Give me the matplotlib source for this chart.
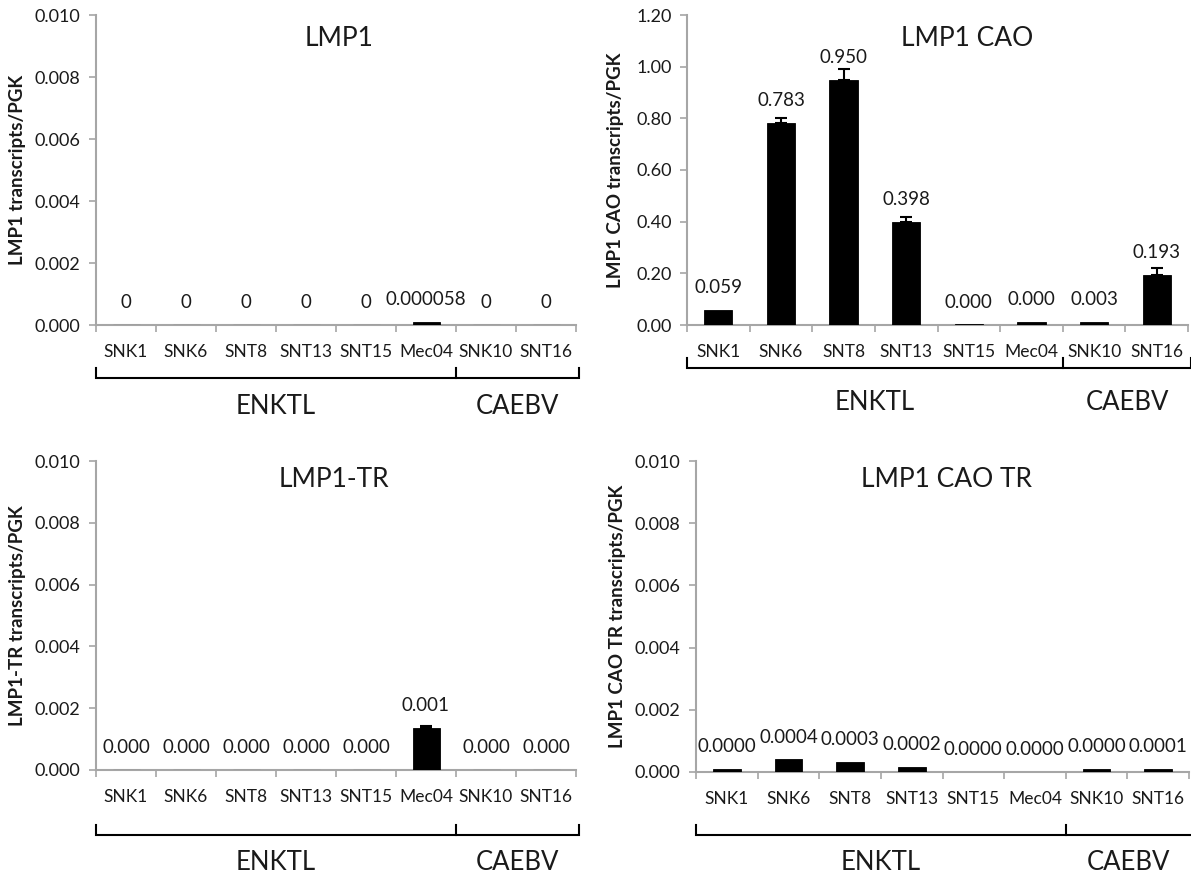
import matplotlib
matplotlib.use("Agg")
import matplotlib.pyplot as plt
from matplotlib.transforms import blended_transform_factory
import numpy as np

plt.rcParams['font.family'] = ['Lato', 'DejaVu Sans']

categories = ["SNK1", "SNK6", "SNT8", "SNT13", "SNT15", "Mec04", "SNK10", "SNT16"]
groups = ["ENKTL", "CAEBV"]

# Panel 1: LMP1
lmp1_values = [0, 0, 0, 0, 0, 0.0001, 0, 0]
lmp1_errors = [0, 0, 0, 0, 0, 0, 0, 0]
lmp1_labels = ["0", "0", "0", "0", "0", "0.000058", "0", "0"]

# Panel 2: LMP1 CAO
cao_values = [0.059, 0.783, 0.950, 0.398, 0.002, 0.012, 0.012, 0.193]
cao_errors = [0, 0.02, 0.04, 0.022, 0, 0, 0, 0.027]
cao_labels = ["0.059", "0.783", "0.950", "0.398", "0.000", "0.000", "0.003", "0.193"]

# Panel 3: LMP1-TR
tr_values = [0, 0, 0, 0, 0, 0.00136, 0, 0]
tr_errors = [0, 0, 0, 0, 0, 0.00005, 0, 0]
tr_labels = ["0.000", "0.000", "0.000", "0.000", "0.000", "0.001", "0.000", "0.000"]

# Panel 4: LMP1 CAO TR
caotr_values = [0.00011, 0.00041, 0.00033, 0.00017, 0.00001, 0.00001, 0.00011, 0.00011]
caotr_errors = [0, 0, 0, 0, 0, 0, 0, 0]
caotr_labels = ["0.0000", "0.0004", "0.0003", "0.0002", "0.0000", "0.0000", "0.0000", "0.0001"]

W, H = 1191, 876
fig = plt.figure(figsize=(W / 100, H / 100), dpi=100)

panels = [
    dict(rect=(96, 15, 576, 325), vals=lmp1_values, errs=lmp1_errors, labs=lmp1_labels,
         title="LMP1", tpos=(0.506, 0.923), ylabel="LMP1 transcripts/PGK", ylx=18,
         ymax=0.010, yticks=np.arange(0, 0.0101, 0.002), fmt="{:.3f}",
         br_y=378, grp_y=406),
    dict(rect=(687, 15, 1188, 325), vals=cao_values, errs=cao_errors, labs=cao_labels,
         title="LMP1 CAO", tpos=(0.56, 0.923), ylabel="LMP1 CAO transcripts/PGK", ylx=616,
         ymax=1.20, yticks=np.arange(0, 1.21, 0.2), fmt="{:.2f}",
         br_y=368, grp_y=403),
    dict(rect=(96, 461, 576, 770), vals=tr_values, errs=tr_errors, labs=tr_labels,
         title="LMP1-TR", tpos=(0.496, 0.94), ylabel="LMP1-TR transcripts/PGK", ylx=18,
         ymax=0.010, yticks=np.arange(0, 0.0101, 0.002), fmt="{:.3f}",
         br_y=835, grp_y=863),
    dict(rect=(696, 461, 1189, 772), vals=caotr_values, errs=caotr_errors, labs=caotr_labels,
         title="LMP1 CAO TR", tpos=(0.509, 0.94), ylabel="LMP1 CAO TR transcripts/PGK", ylx=618,
         ymax=0.010, yticks=np.arange(0, 0.0101, 0.002), fmt="{:.3f}",
         br_y=835, grp_y=863),
]

spine_col = "#a6a6a6"
text_col = "#1a1a1a"

for p in panels:
    x0, y0, x1, y1 = p["rect"]
    ax = fig.add_axes([x0 / W, 1 - y1 / H, (x1 - x0) / W, (y1 - y0) / H])
    x = np.arange(len(categories))
    vals = np.array(p["vals"])
    errs = np.array(p["errs"])
    ax.bar(x, vals, width=0.45, color="black", edgecolor="black", linewidth=0.6, zorder=3)
    zero = vals == 0
    if zero.any():
        ax.bar(x[zero], vals[zero], width=0.45, color="none", edgecolor="#888888",
               linewidth=1.0, zorder=3.5)
    mask = errs > 0
    if mask.any():
        ax.errorbar(x[mask], vals[mask], yerr=[np.zeros(mask.sum()), errs[mask]],
                    fmt="none", ecolor="black", elinewidth=1.5, capsize=4.5,
                    capthick=1.5, zorder=4)
    for xi, v, lab in zip(x, vals, p["labs"]):
        ax.annotate(lab, (xi, v), xytext=(0, 16), textcoords="offset points",
                    ha="center", va="center", fontsize=13.5, color=text_col)
    ax.set_xlim(-0.5, len(categories) - 0.5)
    ax.set_ylim(0, p["ymax"])
    ax.set_yticks(p["yticks"])
    ax.set_yticklabels([p["fmt"].format(t) for t in p["yticks"]])
    ax.set_xticks(np.arange(-0.5, len(categories), 1.0))
    ax.set_xticklabels([])
    ax.set_xticks(x, minor=True)
    ax.set_xticklabels(categories, minor=True)
    ax.tick_params(axis="x", which="major", direction="out", length=5, width=1.2,
                   color=spine_col)
    ax.tick_params(axis="x", which="minor", length=0, pad=14, labelsize=12.5,
                   labelcolor=text_col)
    ax.tick_params(axis="y", direction="out", length=5, width=1.2, color=spine_col,
                   labelsize=13, labelcolor=text_col, pad=6)
    for s in ["top", "right"]:
        ax.spines[s].set_visible(False)
    for s in ["left", "bottom"]:
        ax.spines[s].set_color(spine_col)
        ax.spines[s].set_linewidth(1.5)
    ax.patch.set_visible(False)
    ax.text(p["tpos"][0], p["tpos"][1], p["title"], transform=ax.transAxes,
            ha="center", va="center", fontsize=19, color=text_col)
    fig.text(p["ylx"] / W, 1 - ((y0 + y1) / 2) / H, p["ylabel"], rotation=90,
             ha="center", va="center", fontsize=13.5, fontweight="bold", color=text_col)
    # group bracket
    tr = blended_transform_factory(ax.transData, fig.transFigure)
    by = 1 - p["br_y"] / H
    bt = 1 - (p["br_y"] - 10) / H
    left, mid, right = -0.5, 5.5, 7.55
    ax.plot([left, left, right, right], [bt, by, by, bt], transform=tr, color="black",
            lw=1.5, clip_on=False, solid_joinstyle="miter")
    ax.plot([mid, mid], [by, bt], transform=tr, color="black", lw=1.5, clip_on=False)
    gy = 1 - p["grp_y"] / H
    ax.text((left + mid) / 2, gy, groups[0], transform=tr, ha="center", va="center",
            fontsize=18.5, color=text_col)
    ax.text((mid + right) / 2, gy, groups[1], transform=tr, ha="center", va="center",
            fontsize=18.5, color=text_col)

fig.savefig("out.png", dpi=100, facecolor="white")
